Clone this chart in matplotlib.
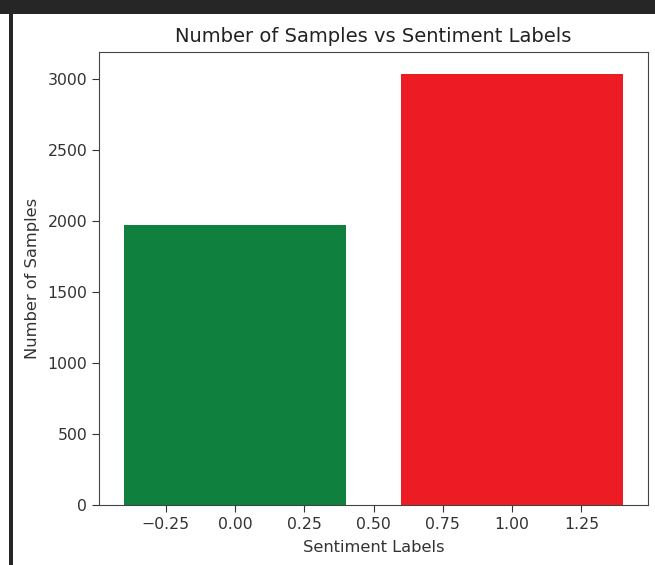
import matplotlib
matplotlib.use("Agg")
import matplotlib.pyplot as plt
from matplotlib.patches import Rectangle

# data
labels = [0, 1]
counts = [1970, 3040]
bar_colors = ["#10803e", "#ed1c24"]

W, H = 655, 565
fig = plt.figure(figsize=(W / 100, H / 100), dpi=100)

# dark window frame of the screenshot (top strip + left strip)
fig.patches.append(Rectangle((0, 1 - 14 / H), 1, 14 / H, transform=fig.transFigure,
                             facecolor="#262626", edgecolor="none", zorder=0))
fig.patches.append(Rectangle((9 / W, 0), 4 / W, 1, transform=fig.transFigure,
                             facecolor="#262626", edgecolor="none", zorder=0))

ax = fig.add_axes([99 / W, 60 / H, 549 / W, 453 / H])
ax.bar(labels, counts, color=bar_colors)

ax.set_title("Number of Samples vs Sentiment Labels", fontsize=14, color="#222222", pad=7)
ax.set_xlabel("Sentiment Labels", fontsize=11.7, color="#333333", labelpad=6)
ax.set_ylabel("Number of Samples", fontsize=11.7, color="#333333", labelpad=5)
ax.tick_params(labelsize=11.3, colors="#333333", length=5)
for s in ax.spines.values():
    s.set_color("#444444")

fig.savefig("out.png", dpi=100)
